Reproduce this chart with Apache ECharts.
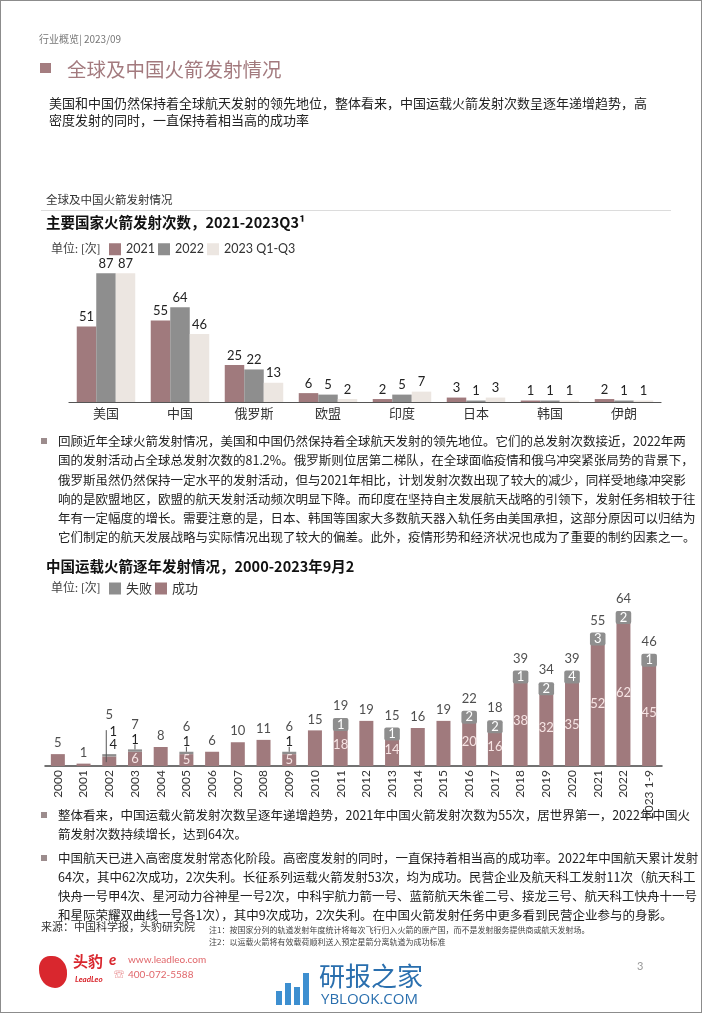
<!DOCTYPE html>
<html>
<head>
<meta charset="utf-8">
<script src="https://cdn.jsdelivr.net/npm/echarts@6/dist/echarts.min.js"></script>
<style>
  html, body { margin: 0; padding: 0; background: #fff; }
  #page { position: relative; width: 702px; height: 1013px; box-sizing: border-box; border: 1px solid #8c8c8c; overflow: hidden;
          font-family: "Noto Sans CJK SC", sans-serif; color: #222; }
  #chart { position: absolute; left: 0; top: 0; width: 702px; height: 1013px; }
  .t { position: absolute; white-space: nowrap; line-height: 18px; }
  .j { text-align: justify; text-align-last: justify; }
  .b { position: absolute; width: 6px; height: 6px; background: #9c8c8d; }
  .p1 { font-size: 13px; left: 48px; }
  .p2 { font-size: 12.5px; left: 57px; width: 626px; }
  .u { font-size: 12px; color: #444; font-family: Lato, "Noto Sans CJK SC", sans-serif; }
</style>
</head>
<body>
<div id="page">
  <div id="chart"></div>

  <div class="t" style="left:38px;top:29px;font-size:10px;color:#777;">行业概览| 2023/09</div>
  <div style="position:absolute;left:39px;top:62px;width:11px;height:10px;background:#a47d80;"></div>
  <div class="t" style="left:66px;top:56px;font-size:19.5px;line-height:24px;color:#a37a7e;">全球及中国火箭发射情况</div>

  <div class="t p1 j" style="top:93px;width:597px;">美国和中国仍然保持着全球航天发射的领先地位，整体看来，中国运载火箭发射次数呈逐年递增趋势，高</div>
  <div class="t p1" style="top:110px;">密度发射的同时，一直保持着相当高的成功率</div>

  <div class="t" style="left:45px;top:189px;font-size:11.5px;color:#333;">全球及中国火箭发射情况</div>
  <div style="position:absolute;left:40px;top:209px;width:630px;height:1px;background:#dcdcdc;"></div>
  <div class="t" style="left:45px;top:212px;font-size:14.5px;font-weight:bold;color:#111;">主要国家火箭发射次数，2021-2023Q3¹</div>
  <div class="t u" style="left:50px;top:239px;">单位: [次]</div>

  <div class="b" style="left:40px;top:437px;"></div>
  <div class="t p2 j" style="top:431px;">回顾近年全球火箭发射情况，美国和中国仍然保持着全球航天发射的领先地位。它们的总发射次数接近，2022年两</div>
  <div class="t p2 j" style="top:450px;">国的发射活动占全球总发射次数的81.2%。俄罗斯则位居第二梯队，在全球面临疫情和俄乌冲突紧张局势的背景下，</div>
  <div class="t p2 j" style="top:469.5px;">俄罗斯虽然仍然保持一定水平的发射活动，但与2021年相比，计划发射次数出现了较大的减少，同样受地缘冲突影</div>
  <div class="t p2 j" style="top:488.5px;">响的是欧盟地区，欧盟的航天发射活动频次明显下降。而印度在坚持自主发展航天战略的引领下，发射任务相较于往</div>
  <div class="t p2 j" style="top:508px;">年有一定幅度的增长。需要注意的是，日本、韩国等国家大多数航天器入轨任务由美国承担，这部分原因可以归结为</div>
  <div class="t p2" style="top:527px;width:auto;">它们制定的航天发展战略与实际情况出现了较大的偏差。此外，疫情形势和经济状况也成为了重要的制约因素之一。</div>

  <div class="t" style="left:45px;top:556px;font-size:14.5px;font-weight:bold;color:#111;">中国运载火箭逐年发射情况，2000-2023年9月2</div>
  <div class="t u" style="left:50px;top:578px;">单位: [次]</div>

  <div class="b" style="left:40px;top:811px;"></div>
  <div class="t p2 j" style="top:805px;">整体看来，中国运载火箭发射次数呈逐年递增趋势，2021年中国火箭发射次数为55次，居世界第一，2022年中国火</div>
  <div class="t p2" style="top:824px;width:auto;">箭发射次数持续增长，达到64次。</div>

  <div class="b" style="left:40px;top:854px;"></div>
  <div class="t p2 j" style="top:848px;">中国航天已进入高密度发射常态化阶段。高密度发射的同时，一直保持着相当高的成功率。2022年中国航天累计发射</div>
  <div class="t p2 j" style="top:867px;">64次，其中62次成功，2次失利。长征系列运载火箭发射53次，均为成功。民营企业及航天科工发射11次（航天科工</div>
  <div class="t p2 j" style="top:886px;">快舟一号甲4次、星河动力谷神星一号2次，中科宇航力箭一号、蓝箭航天朱雀二号、接龙三号、航天科工快舟十一号</div>
  <div class="t p2" style="top:905px;width:auto;">和星际荣耀双曲线一号各1次），其中9次成功，2次失利。在中国火箭发射任务中更多看到民营企业参与的身影。</div>

  <div class="t" style="left:40px;top:916px;font-size:11px;color:#333;">来源：中国科学报，头豹研究院</div>
  <div class="t" style="left:208px;top:920px;font-size:8px;color:#444;">注1：按国家分列的轨道发射年度统计将每次飞行归入火箭的原产国，而不是发射服务提供商或航天发射场。</div>
  <div class="t" style="left:208px;top:932px;font-size:8px;color:#444;">注2：以运载火箭将有效载荷顺利送入预定星箭分离轨道为成功标准</div>

  <div style="position:absolute;left:38px;top:955px;width:28px;height:32px;background:#d9272e;border-radius:40% 55% 45% 60%;"></div>
  <div class="t" style="left:72px;top:951px;font-size:15px;font-weight:bold;color:#d9272e;">头豹</div>
  <div class="t" style="left:74px;top:969px;font-size:8px;font-weight:bold;font-style:italic;color:#d9272e;font-family:Lato,sans-serif;">LeadLeo</div>
  <div class="t" style="left:108px;top:949px;font-size:15px;font-weight:bold;font-style:italic;color:#d9272e;font-family:Lato,sans-serif;">e</div>
  <div class="t" style="left:127px;top:949px;font-size:10px;color:#e0666a;font-family:Lato,sans-serif;">www.leadleo.com</div>
  <div class="t" style="left:113px;top:964px;font-size:10px;color:#e0666a;">☏</div>
  <div class="t" style="left:127px;top:964px;font-size:10px;color:#e0666a;font-family:Lato,sans-serif;">400-072-5588</div>

  <div style="position:absolute;left:275px;top:990px;width:6px;height:14px;background:#3d8fd0;"></div>
  <div style="position:absolute;left:284px;top:982px;width:6px;height:22px;background:#3d8fd0;"></div>
  <div style="position:absolute;left:293px;top:986px;width:6px;height:18px;background:#3d8fd0;"></div>
  <div style="position:absolute;left:302px;top:972px;width:6px;height:32px;background:#3d8fd0;"></div>
  <div class="t" style="left:318px;top:958px;font-size:26px;line-height:32px;color:#2a6fae;">研报之家</div>
  <div class="t" style="left:320px;top:988px;font-size:15px;color:#2a6fae;font-family:'Open Sans',sans-serif;">YBLOOK.COM</div>
  <div class="t" style="left:636px;top:956px;font-size:11px;color:#999;font-family:Lato,sans-serif;">3</div>
</div>

<script>
// 主要国家火箭发射次数
const countries = ['美国', '中国', '俄罗斯', '欧盟', '印度', '日本', '韩国', '伊朗'];
const launches2021 = [51, 55, 25, 6, 2, 3, 1, 2];
const launches2022 = [87, 64, 22, 5, 5, 1, 1, 1];
const launches2023 = [87, 46, 13, 2, 7, 3, 1, 1];

// 中国运载火箭逐年发射情况
const years = ['2000', '2001', '2002', '2003', '2004', '2005', '2006', '2007', '2008', '2009', '2010', '2011',
  '2012', '2013', '2014', '2015', '2016', '2017', '2018', '2019', '2020', '2021', '2022', '2023 1-9'];
const success = [5, 1, 4, 6, 8, 5, 6, 10, 11, 5, 15, 18, 19, 14, 16, 19, 20, 16, 38, 32, 35, 52, 62, 45];
const failure = [0, 0, 1, 1, 0, 1, 0, 0, 0, 1, 0, 1, 0, 1, 0, 0, 2, 2, 1, 2, 4, 3, 2, 1];
const totals = [5, 1, 5, 7, 8, 6, 6, 10, 11, 6, 15, 19, 19, 15, 16, 19, 22, 18, 39, 34, 39, 55, 64, 46];

const MAUVE = '#a07a7d';
const GREY = '#8e8e8e';
const BEIGE = '#ece6e1';
const FONT = 'Lato, "Noto Sans CJK SC", sans-serif';

const chart = echarts.init(document.getElementById('chart'));

const topLabel = { show: true, position: 'top', distance: 3, fontSize: 13, color: '#222', fontFamily: FONT };

const successData = success.map((v, i) => {
  const f = failure[i];
  let label;
  if (f === 0) label = { show: false };
  else if (v < 5) label = { show: true, position: 'top', distance: 5, color: '#222', offset: [4, 0] };
  else label = { show: true, position: 'inside', color: '#f6e4e4' };
  return { value: v, label: label };
});

const failureData = failure.map((v, i) => {
  const s = success[i];
  let label;
  if (v === 0) label = { show: false };
  else if (s < 5) label = { show: true, position: 'top', distance: 16, color: '#222', offset: [4, 0] };
  else if (s < 10) label = { show: true, position: 'top', distance: 3, color: '#222' };
  else label = { show: true, position: 'top', distance: -10, color: '#fff', backgroundColor: GREY,
    borderRadius: 2, padding: [0, 4] };
  return { value: v, label: label };
});

const totalData = totals.map((v, i) => {
  const f = failure[i], s = success[i];
  let d = 4;
  if (f > 0 && s < 5) d = 32;
  else if (f > 0 && s < 10) d = 18;
  else if (f > 0) d = 8;
  return { value: v, label: { distance: d } };
});

chart.setOption({
  animation: false,
  textStyle: { fontFamily: FONT },
  legend: [
    {
      data: ['2021', '2022', '2023 Q1-Q3'],
      left: 103, top: 237,
      itemWidth: 12, itemHeight: 12, itemGap: 3,
      icon: 'rect',
      textStyle: { fontSize: 12.5, color: '#333', fontFamily: FONT },
      selectedMode: false
    },
    {
      data: ['失败', '成功'],
      left: 103, top: 576,
      itemWidth: 12, itemHeight: 12, itemGap: 3,
      icon: 'rect',
      textStyle: { fontSize: 13, color: '#333', fontFamily: FONT },
      selectedMode: false
    }
  ],
  grid: [
    { left: 68, top: 253, width: 592, height: 148 },
    { left: 44, top: 575, width: 617, height: 190 }
  ],
  xAxis: [
    {
      gridIndex: 0, type: 'category', data: countries,
      axisLine: { lineStyle: { color: '#555', width: 1.2 } },
      axisTick: { show: false },
      axisLabel: { fontSize: 13, color: '#333', margin: 5 }
    },
    {
      gridIndex: 1, type: 'category', data: years,
      axisLine: { lineStyle: { color: '#444', width: 1.5 } },
      axisTick: { show: false },
      axisLabel: { fontSize: 12, color: '#333', rotate: 90, margin: 4, interval: 0 }
    }
  ],
  yAxis: [
    { gridIndex: 0, type: 'value', min: 0, max: 100, show: false },
    { gridIndex: 1, type: 'value', min: 0, max: 80, show: false }
  ],
  series: [
    { name: '2021', type: 'bar', xAxisIndex: 0, yAxisIndex: 0, data: launches2021, barWidth: 19.5, barGap: '0%',
      itemStyle: { color: MAUVE }, label: topLabel, silent: true },
    { name: '2022', type: 'bar', xAxisIndex: 0, yAxisIndex: 0, data: launches2022, barWidth: 19.5, barGap: '0%',
      itemStyle: { color: GREY }, label: topLabel, silent: true },
    { name: '2023 Q1-Q3', type: 'bar', xAxisIndex: 0, yAxisIndex: 0, data: launches2023, barWidth: 19.5, barGap: '0%',
      itemStyle: { color: BEIGE }, label: topLabel, silent: true },

    { name: '成功', type: 'bar', xAxisIndex: 1, yAxisIndex: 1, stack: 'launch', data: successData, barWidth: 14,
      itemStyle: { color: MAUVE }, label: { fontSize: 13, fontFamily: FONT }, silent: true },
    { name: '失败', type: 'bar', xAxisIndex: 1, yAxisIndex: 1, stack: 'launch', data: failureData, barWidth: 14,
      itemStyle: { color: GREY }, label: { fontSize: 13, fontFamily: FONT }, silent: true },
    { name: '合计', type: 'scatter', xAxisIndex: 1, yAxisIndex: 1, data: totalData, symbolSize: 1,
      itemStyle: { color: 'rgba(0,0,0,0)' },
      label: { show: true, position: 'top', fontSize: 13, color: '#222', fontFamily: FONT }, silent: true, z: 5 }
  ]
});

// small leader ticks between low bars and their failure labels, placed through the axis scales
const leaders = [];
failure.forEach((f, i) => {
  if (f === 0 || success[i] >= 10) return;
  const p = chart.convertToPixel({ gridIndex: 1 }, [i, totals[i]]);
  if (success[i] < 5) {
    leaders.push({ type: 'line', shape: { x1: p[0] - 3, y1: p[1] - 24, x2: p[0] - 3, y2: p[1] + 8 },
      style: { stroke: '#555', lineWidth: 1 }, silent: true, z: 10 });
  } else {
    leaders.push({ type: 'line', shape: { x1: p[0], y1: p[1] - 5, x2: p[0], y2: p[1] },
      style: { stroke: '#555', lineWidth: 1 }, silent: true, z: 10 });
  }
});
chart.setOption({ graphic: leaders });
</script>
</body>
</html>
